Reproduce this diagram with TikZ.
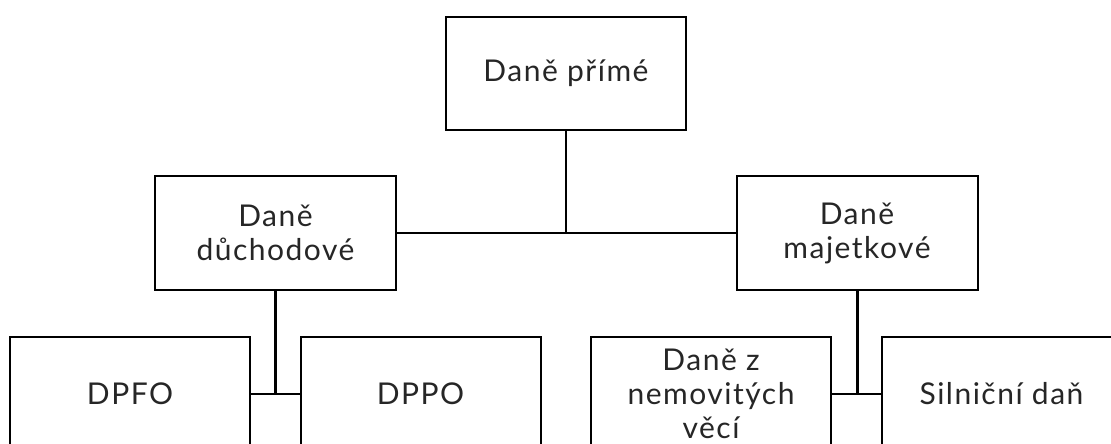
\documentclass[tikz,border=0pt]{standalone}
\usepackage{fontspec}
\setmainfont{Lato}[LetterSpace=5]
\begin{document}
\begin{tikzpicture}[x=1pt,y=1pt,
  box/.style={draw=black,line width=2pt,minimum width=240pt,minimum height=113pt,
    align=center,font=\fontsize{30}{34}\selectfont,text=black!85,inner sep=0pt},
  conn/.style={line width=2pt},
  thick conn/.style={line width=3pt}]
\useasboundingbox (0,0) rectangle (1111,444);
\clip (0,0) rectangle (1111,444);
\node[box] (top) at (566,370.5) {Daně přímé};
\node[box,minimum width=241pt,minimum height=114pt] (ml) at (275.5,211) {Daně\\důchodové};
\node[box,minimum width=241pt,minimum height=114pt] (mr) at (857,211) {Daně\\majetkové};
\node[box] (dpfo) at (130,50) {DPFO};
\node[box] (dppo) at (420.5,50) {DPPO};
\node[box] (nem) at (711,50) {Daně z\\nemovitých\\věcí};
\node[box] (sil) at (1001.5,50) {Silniční daň};
\coordinate (jt) at (top.south |- ml.east);
\draw[conn] (top.south) -- (jt);
\draw[conn] (ml.east) -- (mr.west);
\coordinate (jl) at (ml.south |- dpfo.east);
\coordinate (jr) at (mr.south |- nem.east);
\draw[thick conn] (ml.south) -- (jl);
\draw[conn] (dpfo.east) -- (dppo.west);
\draw[thick conn] (mr.south) -- (jr);
\draw[conn] (nem.east) -- (sil.west);
\end{tikzpicture}
\end{document}
